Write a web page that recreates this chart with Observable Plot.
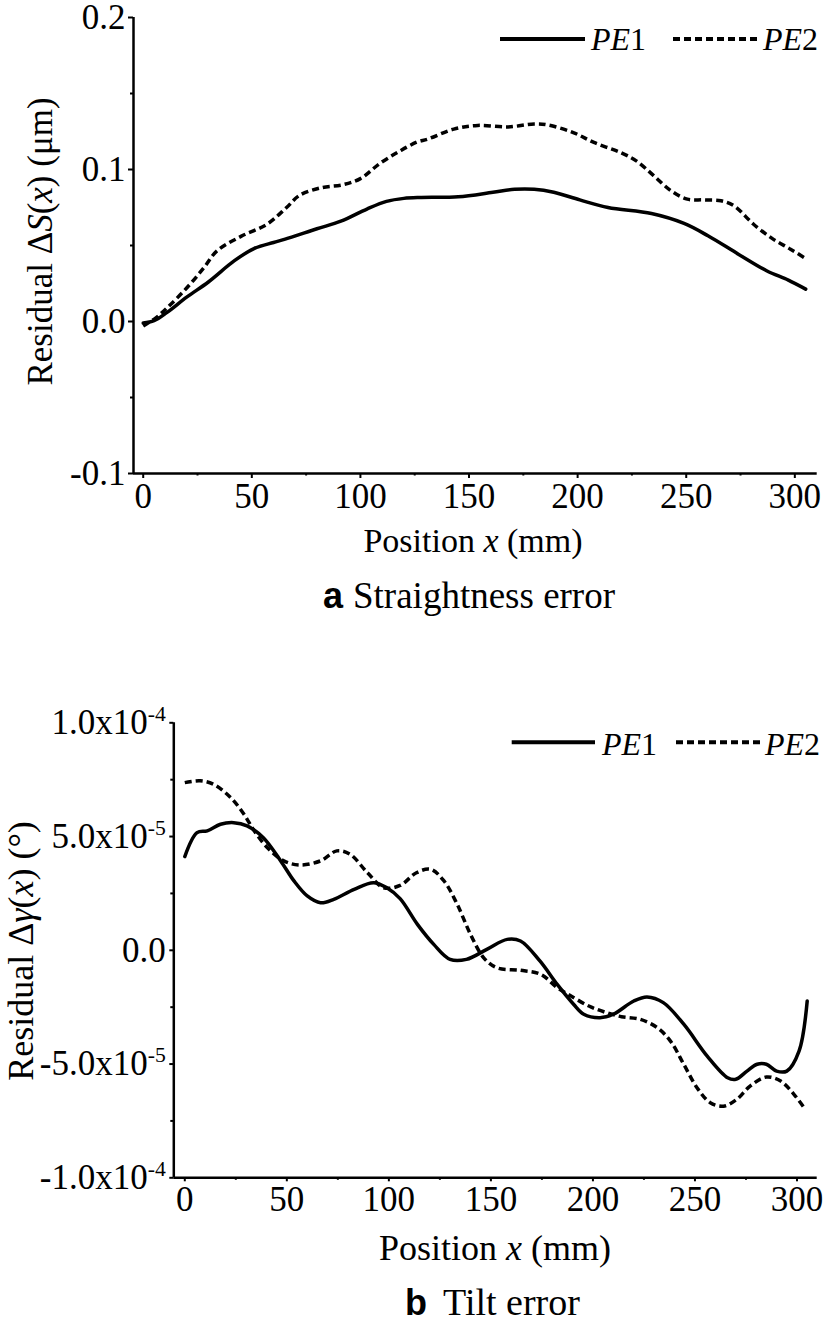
<!DOCTYPE html>
<html>
<head>
<meta charset="utf-8">
<script src="https://cdn.jsdelivr.net/npm/d3@7"></script>
<script src="https://cdn.jsdelivr.net/npm/@observablehq/plot@0.6"></script>
<style>
  html, body { margin: 0; padding: 0; background: #fff; }
  #chart svg { display: block; }
</style>
</head>
<body>
<div id="chart"></div>
<script>
// ---------- DATA ----------
// Panel a: straightness residual ΔS(x) (µm)
const straightPosPE1 = [0, 5, 11, 20, 30, 42, 51, 60, 65, 80, 91, 103, 112, 120, 128, 145, 161, 171, 180, 189, 201, 214, 234, 249, 260, 274, 287, 297, 305];
const straightPE1    = [-0.001, 0.0005, 0.006, 0.016, 0.026, 0.040, 0.048, 0.052, 0.054, 0.061, 0.066, 0.074, 0.079, 0.081, 0.0816, 0.082, 0.085, 0.087, 0.087, 0.085, 0.080, 0.075, 0.071, 0.0645, 0.0564, 0.0443, 0.0334, 0.0272, 0.0213];
const straightPosPE2 = [0, 6, 11, 20, 28, 34, 45, 57, 66, 72, 82, 92, 100, 109, 118, 126, 131, 143, 154, 168, 180, 186, 198, 207.5, 220, 227, 235, 243, 250.5, 258, 266, 272, 281, 290, 298, 305.5];
const straightPE2    = [-0.003, 0.0026, 0.009, 0.022, 0.0355, 0.0465, 0.056, 0.064, 0.075, 0.083, 0.088, 0.090, 0.094, 0.104, 0.112, 0.118, 0.120, 0.1266, 0.129, 0.128, 0.130, 0.1294, 0.1243, 0.1178, 0.111, 0.1057, 0.096, 0.086, 0.0805, 0.080, 0.0794, 0.0761, 0.064, 0.0542, 0.0476, 0.041];

// Panel b: tilt residual Δγ(x) (°)
const tiltPosPE1 = [0, 6, 11, 17.5, 24, 30.5, 38.5, 47, 53.5, 60, 66.5, 73, 83, 92.5, 99, 105.5, 114, 122, 130, 138, 148, 158, 164.5, 174, 182.5, 190.5, 195.5, 203.5, 210, 220, 226.5, 234.5, 244.5, 256, 266, 270, 275.5, 280.5, 285, 290, 295, 301, 305];
const tiltPE1    = [4.12e-5, 5.17e-5, 5.25e-5, 5.54e-5, 5.61e-5, 5.47e-5, 4.95e-5, 3.93e-5, 3.05e-5, 2.39e-5, 2.09e-5, 2.24e-5, 2.68e-5, 2.97e-5, 2.75e-5, 2.27e-5, 1.14e-5, 0.26e-5, -0.40e-5, -0.40e-5, 0.04e-5, 0.48e-5, 0.41e-5, -0.47e-5, -1.50e-5, -2.37e-5, -2.81e-5, -2.96e-5, -2.81e-5, -2.23e-5, -2.05e-5, -2.30e-5, -3.25e-5, -4.65e-5, -5.60e-5, -5.67e-5, -5.31e-5, -5.01e-5, -5.01e-5, -5.31e-5, -5.31e-5, -4.43e-5, -2.23e-5];
const tiltPosPE2 = [0, 7.5, 14, 22.5, 29, 34, 40.5, 48.5, 56.5, 66.5, 74.5, 81, 89.5, 97.5, 105.5, 113.5, 120.5, 127, 133.5, 140, 146.5, 153, 164.5, 174.5, 182.5, 188, 198, 207, 214, 223, 231.5, 238, 244.5, 251, 257.5, 264, 270.5, 277, 285, 292, 298.5, 303.5];
const tiltPE2    = [7.37e-5, 7.45e-5, 7.30e-5, 6.71e-5, 5.98e-5, 5.25e-5, 4.51e-5, 3.93e-5, 3.75e-5, 3.93e-5, 4.37e-5, 4.22e-5, 3.41e-5, 2.75e-5, 2.85e-5, 3.41e-5, 3.56e-5, 3.05e-5, 2.02e-5, 0.70e-5, -0.33e-5, -0.77e-5, -0.88e-5, -1.06e-5, -1.64e-5, -1.94e-5, -2.45e-5, -2.75e-5, -2.92e-5, -3.03e-5, -3.40e-5, -3.99e-5, -5.01e-5, -6.04e-5, -6.70e-5, -6.85e-5, -6.55e-5, -5.97e-5, -5.57e-5, -5.75e-5, -6.33e-5, -6.92e-5];

// Ticks and labels
const xTicks = [0, 50, 100, 150, 200, 250, 300];
const xMinorTicks = [25, 75, 125, 175, 225, 275];
const straightYTicks = [-0.1, 0.0, 0.1, 0.2];
const straightYTickLabels = ["-0.1", "0.0", "0.1", "0.2"];
const straightYMinor = [-0.05, 0.05, 0.15];
const tiltYTicks = [-1e-4, -5e-5, 0, 5e-5, 1e-4];
const tiltYTickLabels = ["-1.0x10^-4", "-5.0x10^-5", "0.0", "5.0x10^-5", "1.0x10^-4"];
const tiltYMinor = [-7.5e-5, -2.5e-5, 2.5e-5, 7.5e-5];
const seriesNames = ["PE1", "PE2"];

// ---------- HELPERS ----------
const SERIF = "'Liberation Serif','Times New Roman',Times,serif";
const SANS = "'Liberation Sans',Arial,Helvetica,sans-serif";
const NS = "http://www.w3.org/2000/svg";
const rows = (xs, ys) => xs.map((x, i) => ({x, v: ys[i]}));

// force serif font on Plot's own tick labels and build superscripts
function styleTicks(svg, size) {
  svg.querySelectorAll("text").forEach(t => {
    t.style.fontFamily = SERIF;
    t.style.fontSize = size + "px";
    t.style.fontVariant = "normal";
    const s = t.textContent;
    if (s && s.includes("^")) {
      const [base, exp] = s.split("^");
      t.textContent = "";
      const a = document.createElementNS(NS, "tspan");
      a.textContent = base;
      const b = document.createElementNS(NS, "tspan");
      b.setAttribute("dy", "-0.6em");
      b.setAttribute("font-size", "0.62em");
      b.textContent = exp;
      t.appendChild(a); t.appendChild(b);
    }
  });
}

// parts: [text, style, extraAttrs] where style in "", "i", "b"
function richText(sel, x, y, parts, {size, anchor = "middle", rotate = 0}) {
  const t = sel.append("text")
    .attr("transform", `translate(${x},${y}) rotate(${rotate})`)
    .attr("text-anchor", anchor)
    .attr("font-family", SERIF)
    .attr("font-size", size)
    .attr("fill", "#000");
  parts.forEach(([s, st, extra]) => {
    const ts = t.append("tspan").text(s);
    if (st === "i") ts.attr("font-style", "italic");
    if (st === "b") ts.attr("font-family", SANS).attr("font-weight", "bold");
    if (extra) Object.entries(extra).forEach(([k, v]) => ts.attr(k, v));
  });
  return t;
}

function legend(sel, items) {
  items.forEach(it => {
    sel.append("line")
      .attr("x1", it.x1).attr("x2", it.x2).attr("y1", it.y).attr("y2", it.y)
      .attr("stroke", "#000").attr("stroke-width", 4)
      .attr("stroke-dasharray", it.dash ? "7,4" : null);
    richText(sel, it.tx, it.ty, [["PE", "i"], [it.name.slice(2), ""]], {size: it.size, anchor: "start"});
  });
}

function panel({w, h, mt, mb, ml, mr, xDomain, yDomain, yTicks, yLabels, yMinor, pe1, pe2, ySize, yPad, xSize, xPad}) {
  const ylab = new Map(yTicks.map((d, i) => [d, yLabels[i]]));
  return Plot.plot({
    width: w, height: h,
    marginTop: mt, marginBottom: mb, marginLeft: ml, marginRight: mr,
    x: {domain: xDomain},
    y: {domain: yDomain},
    style: {background: "#fff", color: "#000", overflow: "visible"},
    marks: [
      Plot.ruleX([xDomain[0]], {stroke: "#000", strokeWidth: 2.5}),
      Plot.ruleY([yDomain[0]], {stroke: "#000", strokeWidth: 2.5}),
      Plot.axisY(yTicks, {anchor: "left", tickSize: ySize, tickPadding: yPad, strokeWidth: 2, tickFormat: d => ylab.get(d), label: null}),
      Plot.axisY(yMinor, {anchor: "left", tickSize: 3, strokeWidth: 2, tickFormat: () => "", label: null}),
      Plot.axisX(xTicks, {anchor: "bottom", tickSize: xSize, tickPadding: xPad, strokeWidth: 2, tickFormat: d => String(d), label: null}),
      Plot.axisX(xMinorTicks, {anchor: "bottom", tickSize: 2.5, strokeWidth: 2, tickFormat: () => "", label: null}),
      Plot.line(pe1, {x: "x", y: "v", stroke: "#000", strokeWidth: 3.5, curve: "catmull-rom"}),
      Plot.line(pe2, {x: "x", y: "v", stroke: "#000", strokeWidth: 3.5, strokeDasharray: "7,4", strokeLinecap: "butt", curve: "catmull-rom"})
    ]
  });
}

// ---------- PANEL A ----------
const svgA = panel({
  w: 827, h: 660, mt: 17, mb: 187, ml: 133, mr: 10.3,
  xDomain: [-4.47, 310.3], yDomain: [-0.1, 0.2],
  yTicks: straightYTicks, yLabels: straightYTickLabels, yMinor: straightYMinor,
  pe1: rows(straightPosPE1, straightPE1), pe2: rows(straightPosPE2, straightPE2),
  ySize: 5, yPad: 3, xSize: 5, xPad: 5
});
styleTicks(svgA, 35);
{
  const s = d3.select(svgA);
  richText(s, 52, 241.5, [["Residual \u0394", ""], ["S", "i"], ["(", ""], ["x", "i"], [") (\u03bcm)", ""]], {size: 35, rotate: -90});
  richText(s, 473, 551.7, [["Position ", ""], ["x", "i"], [" (mm)", ""]], {size: 34});
  richText(s, 323, 608, [["a", "b", {"font-size": 36}], ["Straightness error", "", {x: 30}]], {size: 37, anchor: "start"});
  legend(s, [
    {name: seriesNames[0], x1: 500, x2: 585, y: 39, tx: 591, ty: 50, size: 32, dash: false},
    {name: seriesNames[1], x1: 673, x2: 760, y: 39, tx: 763, ty: 50, size: 32, dash: true}
  ]);
}

// ---------- PANEL B ----------
const svgB = panel({
  w: 827, h: 665, mt: 62.3, mb: 147.7, ml: 173.3, mr: 10.3,
  xDomain: [-5.39, 309.9], yDomain: [-1e-4, 1e-4],
  yTicks: tiltYTicks, yLabels: tiltYTickLabels, yMinor: tiltYMinor,
  pe1: rows(tiltPosPE1, tiltPE1), pe2: rows(tiltPosPE2, tiltPE2),
  ySize: 4, yPad: 4, xSize: 4, xPad: 4.5
});
styleTicks(svgB, 35);
{
  const s = d3.select(svgB);
  richText(s, 33, 291, [["Residual \u0394", ""], ["\u03b3", "i"], ["(", ""], ["x", "i"], [") (\u00b0)", ""]], {size: 36, rotate: -90});
  richText(s, 495, 600, [["Position ", ""], ["x", "i"], [" (mm)", ""]], {size: 36});
  richText(s, 405, 655, [["b", "b", {"font-size": 36}], ["Tilt error", "", {x: 38}]], {size: 38, anchor: "start"});
  legend(s, [
    {name: seriesNames[0], x1: 511.7, x2: 595, y: 82.3, tx: 602, ty: 95, size: 32, dash: false},
    {name: seriesNames[1], x1: 676, x2: 760, y: 82.3, tx: 765, ty: 95, size: 32, dash: true}
  ]);
}

const chart = document.getElementById("chart");
chart.appendChild(svgA);
chart.appendChild(svgB);
</script>
</body>
</html>
